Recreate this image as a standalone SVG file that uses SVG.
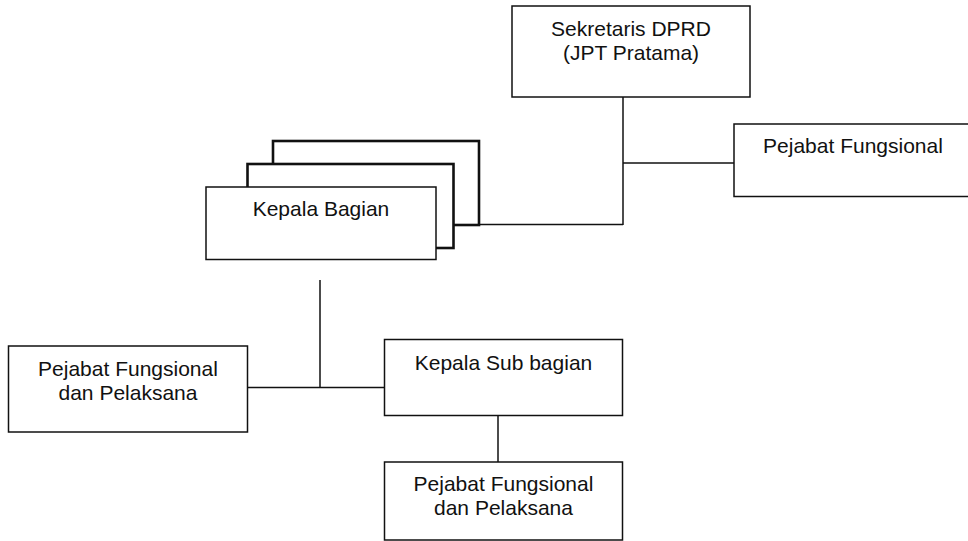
<svg xmlns="http://www.w3.org/2000/svg" width="968" height="541" viewBox="0 0 968 541">
<style>
.box{fill:#fff;stroke:#111;stroke-width:1.5}
.back{fill:#fff;stroke:#111;stroke-width:2.6}
.conn line{stroke:#111;stroke-width:1.5}
text{font-family:"Liberation Sans",Arial,sans-serif;font-size:21px;fill:#111;text-anchor:middle}
</style>
<rect width="968" height="541" fill="#fff"/>
<g id="connectors" class="conn">
<line x1="623" y1="97" x2="623" y2="225"/>
<line x1="623" y1="163" x2="734" y2="163"/>
<line x1="479" y1="224.5" x2="623" y2="224.5"/>
<line x1="320" y1="280" x2="320" y2="387.5"/>
<line x1="248" y1="387.5" x2="384" y2="387.5"/>
<line x1="498" y1="415.5" x2="498" y2="462"/>
</g>
<g id="sekretaris">
<rect class="box" x="512" y="6" width="238" height="91"/>
<text x="631" y="36">Sekretaris DPRD</text>
<text x="631" y="60">(JPT Pratama)</text>
</g>
<g id="pejabat-fungsional">
<rect class="box" x="734" y="124" width="240" height="72.5"/>
<text x="853" y="153">Pejabat Fungsional</text>
</g>
<g id="kepala-bagian">
<rect class="back" x="273" y="141" width="206" height="84"/>
<rect class="back" x="247.5" y="164" width="206" height="84"/>
<rect class="box" x="206" y="187" width="230" height="72.5"/>
<text x="321" y="216">Kepala Bagian</text>
</g>
<g id="pejabat-fungsional-pelaksana-kiri">
<rect class="box" x="8.5" y="346" width="239" height="86"/>
<text x="128" y="376">Pejabat Fungsional</text>
<text x="128" y="399.5">dan Pelaksana</text>
</g>
<g id="kepala-sub-bagian">
<rect class="box" x="384.5" y="339.5" width="238" height="76"/>
<text x="503.5" y="369.5">Kepala Sub bagian</text>
</g>
<g id="pejabat-fungsional-pelaksana-bawah">
<rect class="box" x="384.5" y="462" width="238" height="78"/>
<text x="503.5" y="491">Pejabat Fungsional</text>
<text x="503.5" y="515">dan Pelaksana</text>
</g>
</svg>
